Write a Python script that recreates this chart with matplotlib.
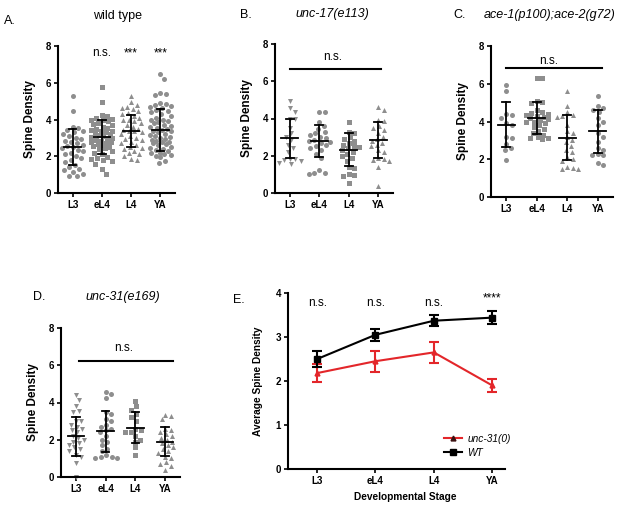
import numpy as np
import matplotlib
matplotlib.use("Agg")
import matplotlib.pyplot as plt
from matplotlib.lines import Line2D

plt.rcParams['font.family'] = ['Liberation Sans', 'DejaVu Sans']

stages = ["L3", "eL4", "L4", "YA"]

# ---- Panel A: wild type ----
A_L3 = [5.28, 4.45, 3.6, 3.55, 3.45, 3.4, 3.3, 3.2, 3.1, 3.0, 2.95, 2.85, 2.8, 2.7, 2.6, 2.55,
        2.5, 2.45, 2.35, 2.3, 2.2, 2.1, 2.0, 1.9, 1.8, 1.7, 1.55, 1.4, 1.3, 1.25, 1.15, 1.05, 0.95, 0.9]
A_eL4 = [5.75, 4.95, 4.25, 4.2, 4.1, 4.05, 4.0, 3.95, 3.9, 3.8, 3.75, 3.7, 3.6, 3.55, 3.5, 3.45,
         3.4, 3.35, 3.3, 3.25, 3.2, 3.15, 3.1, 3.05, 3.0, 2.95, 2.9, 2.85, 2.8, 2.75, 2.7, 2.65,
         2.6, 2.55, 2.5, 2.45, 2.4, 2.3, 2.2, 2.1, 1.95, 1.9, 1.85, 1.8, 1.75, 1.6, 1.3, 1.05]
A_L4 = [5.3, 4.95, 4.8, 4.7, 4.6, 4.55, 4.45, 4.35, 4.3, 4.2, 4.1, 4.0, 3.95, 3.9, 3.8, 3.7, 3.6,
        3.5, 3.45, 3.4, 3.35, 3.3, 3.2, 3.1, 3.0, 2.95, 2.9, 2.8, 2.7, 2.6, 2.5, 2.45, 2.4, 2.3,
        2.2, 2.1, 2.0, 1.85, 1.8]
A_YA = [6.45, 6.2, 5.45, 5.4, 5.35, 4.9, 4.85, 4.8, 4.75, 4.7, 4.6, 4.5, 4.45, 4.4, 4.3, 4.2,
        4.1, 4.0, 3.95, 3.9, 3.85, 3.8, 3.7, 3.65, 3.6, 3.55, 3.5, 3.45, 3.4, 3.35, 3.3, 3.2,
        3.15, 3.1, 3.05, 3.0, 2.95, 2.9, 2.85, 2.8, 2.75, 2.7, 2.65, 2.6, 2.5, 2.45, 2.4, 2.35,
        2.3, 2.2, 2.15, 2.1, 2.05, 2.0, 1.95, 1.75, 1.65]
A_mean = [2.5, 3.05, 3.37, 3.43]
A_sd = [1.0, 0.93, 0.89, 1.14]

# ---- Panel B: unc-17(e113) ----
B_L3 = [4.95, 4.55, 4.35, 4.0, 3.95, 3.5, 3.2, 3.0, 2.85, 2.6, 2.4, 2.2, 1.85, 1.8, 1.75, 1.7, 1.6, 1.55]
B_eL4 = [4.35, 4.35, 3.8, 3.6, 3.45, 3.3, 3.2, 3.1, 3.0, 2.95, 2.85, 2.8, 2.75, 2.7, 2.6, 2.5,
         2.4, 2.3, 2.1, 1.9, 1.25, 1.1, 1.05, 1.0]
B_L4 = [3.8, 3.3, 3.2, 3.0, 2.9, 2.8, 2.7, 2.6, 2.5, 2.45, 2.4, 2.3, 2.2, 2.1, 2.0, 1.9, 1.7,
        1.4, 1.35, 1.0, 0.95, 0.9, 0.55]
B_YA = [4.6, 4.45, 3.9, 3.85, 3.6, 3.5, 3.4, 3.2, 3.0, 2.9, 2.8, 2.7, 2.6, 2.5, 2.3, 2.2, 1.9,
        1.8, 1.75, 1.7, 1.4, 0.35]
B_mean = [2.93, 2.77, 2.32, 2.85]
B_sd = [1.05, 0.86, 0.88, 0.97]

# ---- Panel C: ace-1(p100);ace-2(g72) ----
C_L3 = [5.95, 5.6, 4.4, 4.35, 4.2, 3.9, 3.8, 3.2, 3.1, 2.8, 2.6, 2.5, 1.95]
C_eL4 = [6.3, 6.3, 5.1, 5.05, 5.0, 4.6, 4.5, 4.45, 4.4, 4.35, 4.3, 4.25, 4.2, 4.15, 4.1, 4.0,
         3.95, 3.9, 3.8, 3.7, 3.6, 3.5, 3.4, 3.3, 3.2, 3.15, 3.1, 3.05]
C_L4 = [5.6, 4.8, 4.5, 4.35, 4.3, 4.25, 3.8, 3.5, 3.4, 3.2, 3.0, 2.9, 2.7, 2.5, 2.4, 2.1, 2.0,
        1.9, 1.6, 1.55, 1.5, 1.5]
C_YA = [5.35, 4.8, 4.7, 4.6, 4.5, 4.2, 4.0, 3.8, 3.4, 3.2, 2.9, 2.6, 2.5, 2.3, 2.25, 2.2, 1.8, 1.7]
C_mean = [3.83, 4.17, 3.15, 3.48]
C_sd = [1.2, 0.84, 1.19, 1.13]

# ---- Panel D: unc-31(e169) ----
D_L3 = [4.4, 4.15, 3.8, 3.55, 3.5, 3.0, 3.0, 2.8, 2.7, 2.6, 2.5, 2.4, 2.2, 2.1, 2.0, 1.9, 1.8,
        1.7, 1.6, 1.5, 1.4, 1.2, 1.1, 0.75, 0.0]
D_eL4 = [4.55, 4.45, 4.25, 3.5, 3.4, 3.1, 3.0, 2.8, 2.7, 2.6, 2.5, 2.4, 2.2, 2.0, 1.9, 1.7, 1.5,
         1.4, 1.2, 1.1, 1.05, 1.0, 1.0]
D_L4 = [4.1, 3.8, 3.6, 3.4, 3.2, 3.0, 2.6, 2.5, 2.4, 2.4, 2.2, 2.0, 1.9, 1.6, 1.2]
D_YA = [3.35, 3.3, 3.1, 2.6, 2.5, 2.4, 2.3, 2.2, 2.1, 2.0, 1.9, 1.8, 1.7, 1.6, 1.5, 1.4, 1.3,
        1.1, 1.0, 0.8, 0.7, 0.6, 0.4]
D_mean = [2.18, 2.45, 2.65, 1.9]
D_sd = [1.04, 1.09, 0.85, 0.76]

# ---- Panel E: averages ----
E_wt = [2.5, 3.05, 3.37, 3.44]
E_wt_err = [0.18, 0.13, 0.12, 0.15]
E_unc = [2.18, 2.45, 2.65, 1.9]
E_unc_err = [0.2, 0.24, 0.23, 0.15]
E_sig = ["n.s.", "n.s.", "n.s.", "****"]

GRAY = '#8e8e8e'
W, H = 617, 505
fig = plt.figure(figsize=(W / 100, H / 100), dpi=100)


def ax_px(left, top, right, bottom):
    return fig.add_axes([left / W, 1 - bottom / H, (right - left) / W, (bottom - top) / H])


def swarm(ax, xc, ys, marker, d=5.6, draw_px=5.0, maxfrac=0.38):
    """Deterministic beeswarm layout computed in pixel space, capped in width."""
    bbox = ax.get_position()
    axw = bbox.width * W
    axh = bbox.height * H
    x0, x1 = ax.get_xlim()
    y0, y1 = ax.get_ylim()
    sx = axw / (x1 - x0)
    sy = axh / (y1 - y0)
    maxoff = maxfrac * sx
    cands = [0.0]
    j = 1
    while j * 0.8 <= maxoff:
        cands += [j * 0.8, -j * 0.8]
        j += 1
    placed = []
    res = np.zeros(len(ys))
    order = np.argsort(ys)[::-1]
    for i in order:
        py = ys[i] * sy
        best, bestd = None, -1
        for c in cands:
            md = min([np.hypot(qx - c, qy - py) for (qx, qy) in placed] + [1e9])
            if md >= d:
                best = c
                break
            if md > bestd:
                bestd, best = md, c
        placed.append((best, py))
        res[i] = best / sx
    size_pt = draw_px * 72 / 100
    ax.scatter(xc + res, ys, marker=marker, s=size_pt ** 2, color=GRAY,
               linewidths=0, zorder=2, clip_on=False)


def style_axes(ax):
    for s in ('top', 'right'):
        ax.spines[s].set_visible(False)
    for s in ('left', 'bottom'):
        ax.spines[s].set_linewidth(1.5)
    ax.tick_params(width=1.2, length=3, labelsize=7, pad=2)


def bold_ticks(ax):
    for lab in ax.get_xticklabels() + ax.get_yticklabels():
        lab.set_fontweight('bold')


def dot_panel(ax, groups, markers, means, sds):
    ax.set_xlim(-0.5, 3.5)
    ax.set_ylim(0, 8)
    for i, (g, m) in enumerate(zip(groups, markers)):
        swarm(ax, i, np.array(g, dtype=float), m)
    for i in range(4):
        ax.plot([i - 0.28, i + 0.28], [means[i]] * 2, color='black', lw=1.3, zorder=3)
        ax.plot([i, i], [means[i] - sds[i], means[i] + sds[i]], color='black', lw=1.3, zorder=3)
        for yy in (means[i] - sds[i], means[i] + sds[i]):
            ax.plot([i - 0.13, i + 0.13], [yy, yy], color='black', lw=1.3, zorder=3)
    style_axes(ax)
    ax.set_yticks([0, 2, 4, 6, 8])
    ax.set_xticks(range(4))
    ax.set_xticklabels(stages)
    bold_ticks(ax)
    ax.set_ylabel("Spine Density", fontsize=8.5, fontweight='bold', labelpad=7)


# Panel A
axA = ax_px(58, 46, 175, 193)
dot_panel(axA, [A_L3, A_eL4, A_L4, A_YA], ['o', 's', '^', 'o'], A_mean, A_sd)
for i, t in zip([1, 2, 3], ["n.s.", "***", "***"]):
    axA.text(i, 7.6, t, ha='center', va='center', fontsize=8.5)
fig.text(4 / W, 1 - 21 / H, "A.", fontsize=9, va='center')
fig.text(118 / W, 1 - 16 / H, "wild type", fontsize=9, ha='center', va='center')

# Panel B
axB = ax_px(275, 44, 393, 193)
dot_panel(axB, [B_L3, B_eL4, B_L4, B_YA], ['v', 'o', 's', '^'], B_mean, B_sd)
axB.plot([0.0, 3.1], [6.67, 6.67], color='black', lw=1.5)
axB.text(1.45, 7.3, "n.s.", ha='center', va='center', fontsize=8.5)
fig.text(240 / W, 1 - 15 / H, "B.", fontsize=9, va='center')
fig.text(332 / W, 1 - 14 / H, "unc-17(e113)", fontsize=9, ha='center', va='center', style='italic')

# Panel C
axC = ax_px(491, 46, 613, 197)
dot_panel(axC, [C_L3, C_eL4, C_L4, C_YA], ['o', 's', '^', 'o'], C_mean, C_sd)
axC.plot([0.0, 3.13], [6.83, 6.83], color='black', lw=1.5)
axC.text(1.4, 7.2, "n.s.", ha='center', va='center', fontsize=8.5)
fig.text(453 / W, 1 - 15 / H, "C.", fontsize=9, va='center')
fig.text(550 / W, 1 - 15 / H, "ace-1(p100);ace-2(g72)", fontsize=9, ha='center', va='center',
         style='italic')

# Panel D
axD = ax_px(61, 328, 180, 477)
dot_panel(axD, [D_L3, D_eL4, D_L4, D_YA], ['v', 'o', 's', '^'], D_mean, D_sd)
axD.plot([0.1, 3.27], [6.23, 6.23], color='black', lw=1.5)
axD.text(1.6, 6.9, "n.s.", ha='center', va='center', fontsize=8.5)
fig.text(33 / W, 1 - 297 / H, "D.", fontsize=9, va='center')
fig.text(123 / W, 1 - 297 / H, "unc-31(e169)", fontsize=9, ha='center', va='center', style='italic')

# Panel E
axE = ax_px(288, 293, 505, 469)
x = np.arange(4)
RED = '#e3262a'
axE.errorbar(x, E_unc, yerr=E_unc_err, color=RED, lw=1.5, marker='^', ms=3.5,
             mfc=RED, mec=RED, capsize=3.5, capthick=1.5, elinewidth=1.5, zorder=3)
axE.errorbar(x, E_wt, yerr=E_wt_err, color='black', lw=1.5, marker='s', ms=4,
             capsize=3.5, capthick=1.5, elinewidth=1.5, zorder=4)
axE.set_xlim(-0.5, 3.22)
axE.set_ylim(0, 4)
axE.set_yticks([0, 1, 2, 3, 4])
axE.set_xticks(x)
axE.set_xticklabels(stages)
style_axes(axE)
bold_ticks(axE)
for i, t in enumerate(E_sig):
    axE.text(i, 3.78 if t == "n.s." else 3.88, t, ha='center', va='center', fontsize=8.5)
axE.set_ylabel("Average Spine Density", fontsize=7.3, fontweight='bold', labelpad=9)
fig.text(405 / W, 1 - 497 / H, "Developmental Stage", fontsize=7.3, fontweight='bold',
         ha='center', va='center')
handles = [Line2D([], [], color=RED, lw=1.5, marker='^', ms=3.5, mfc='#3a1010', mec='#3a1010'),
           Line2D([], [], color='black', lw=1.5, marker='s', ms=4)]
leg = axE.legend(handles, ['unc-31(0)', 'WT'], loc='lower left', bbox_to_anchor=(0.7, 0.04),
                 frameon=False, fontsize=7.3, handlelength=1.8, handletextpad=0.5,
                 labelspacing=0.4, borderaxespad=0)
for t in leg.get_texts():
    t.set_style('italic')
fig.text(233 / W, 1 - 300 / H, "E.", fontsize=9, va='center')

fig.savefig("out.png", dpi=100)
